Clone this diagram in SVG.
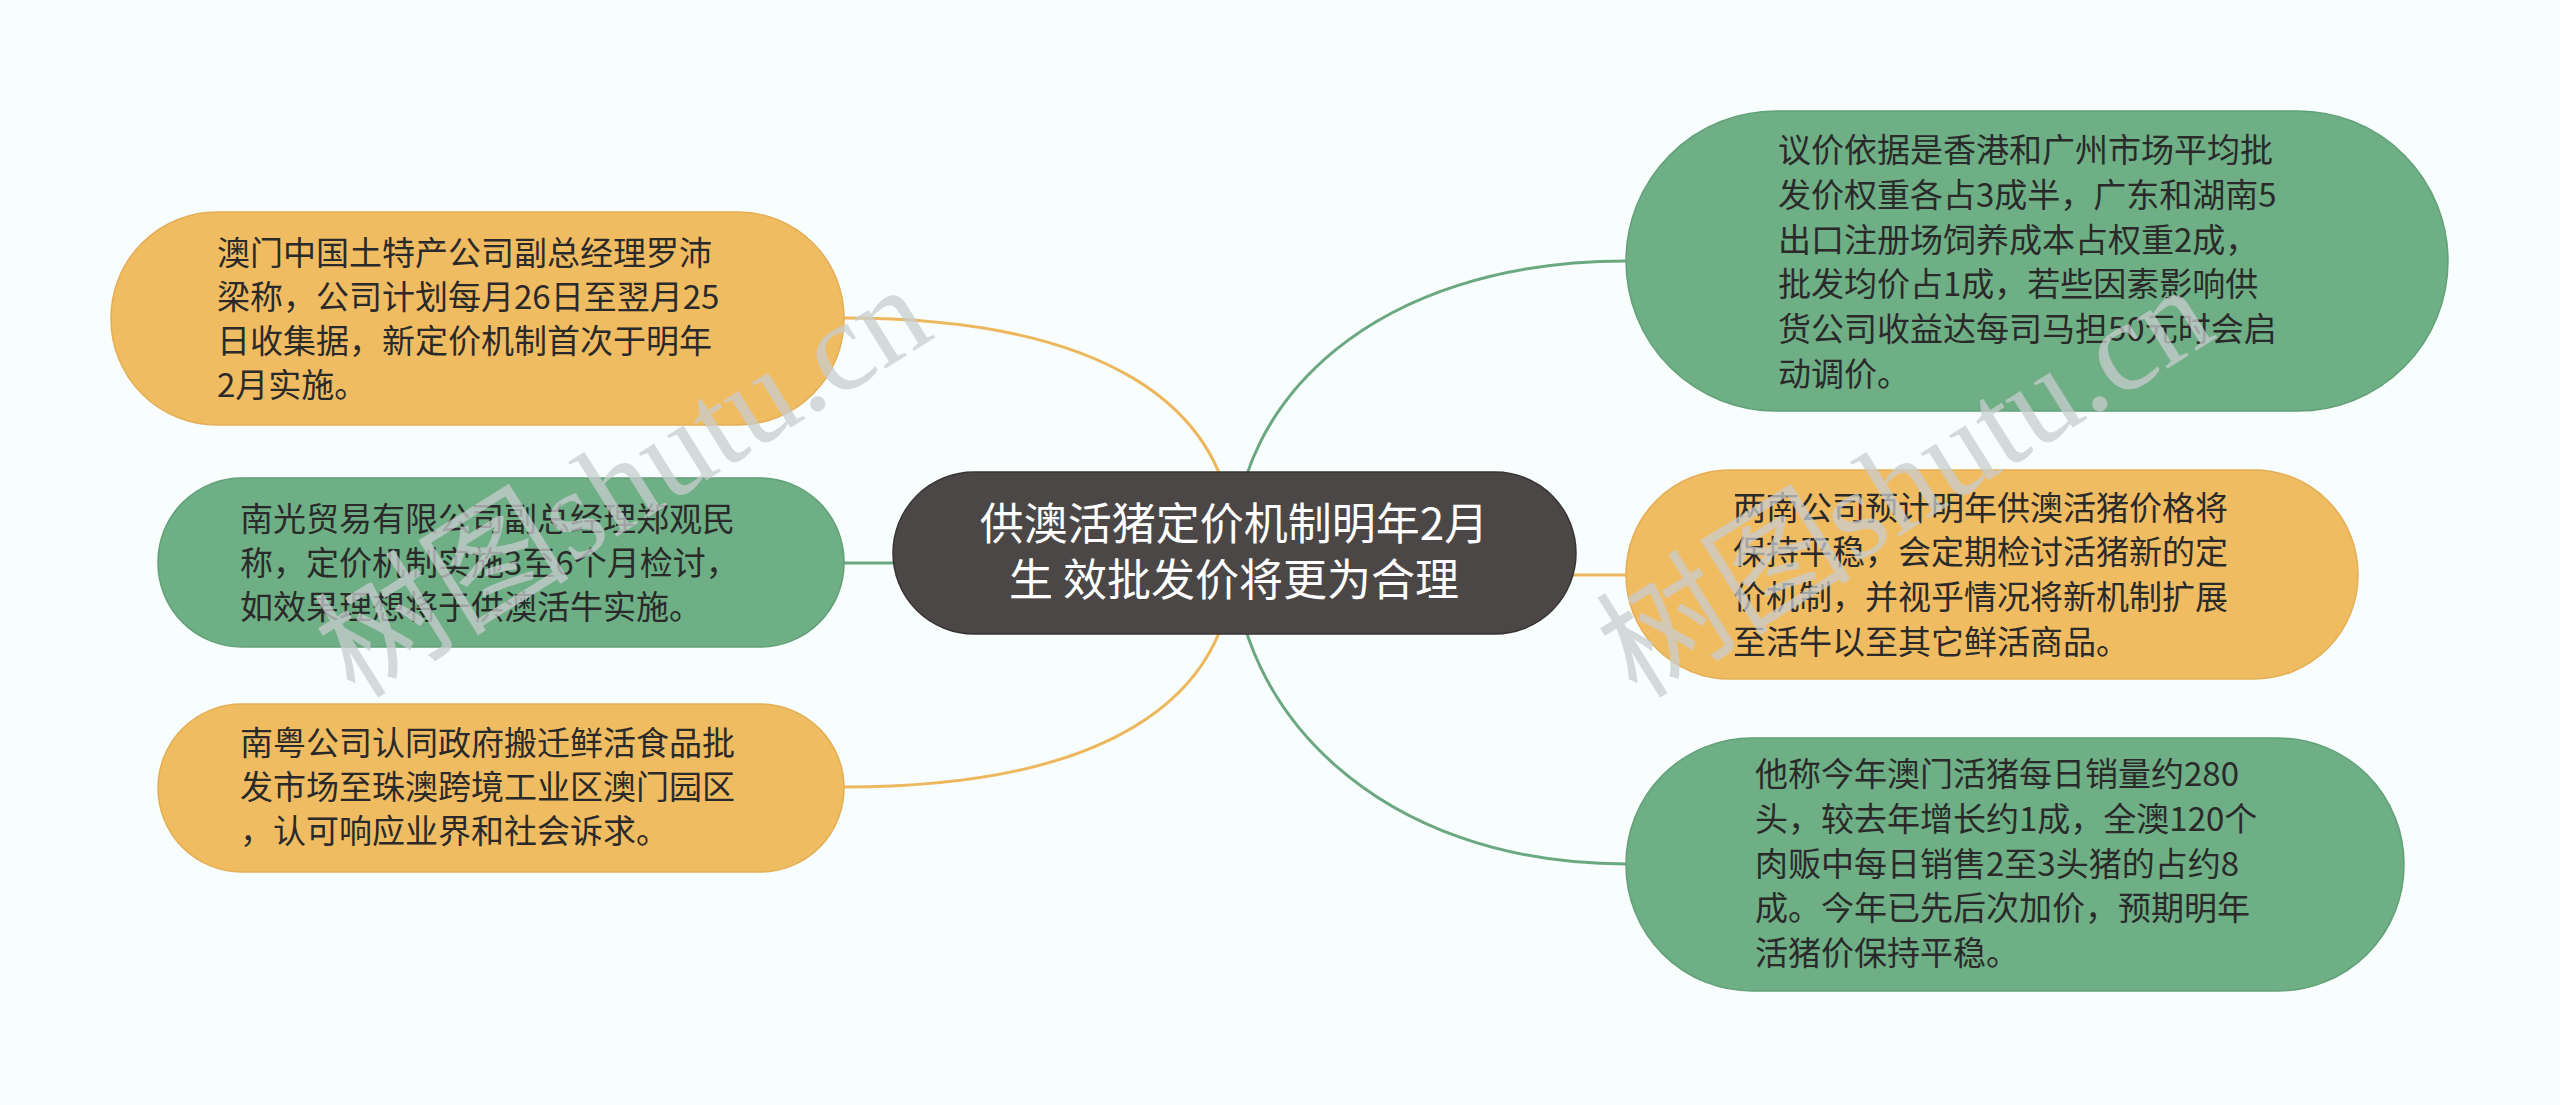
<svg xmlns="http://www.w3.org/2000/svg" width="2560" height="1105" viewBox="0 0 2560 1105">
<style>
.bg{fill:#F8FDFD}
.or{fill:#F0BC62;stroke:#E3AE55;stroke-width:1.5}
.gr{fill:#6EAF85;stroke:#62A078;stroke-width:1.5}
.ct{fill:#4C4747;stroke:#3A3535;stroke-width:1.5}
.t{font-family:"Noto Sans CJK SC","Noto Sans",sans-serif;font-size:33px;fill:#2A2A2A}
.tc{font-family:"Noto Sans CJK SC","Noto Sans",sans-serif;font-size:44px;fill:#FFFFFF;text-anchor:middle}
.lo{fill:none;stroke:#EDB85D;stroke-width:3}
.lg{fill:none;stroke:#6BA882;stroke-width:3}
.wm{font-family:"Liberation Serif","Noto Sans CJK SC",serif;font-size:128px;fill:#C9CDCF;opacity:0.75}
</style>
<rect class="bg" x="0" y="0" width="2560" height="1105"/>
<g id="connectors">
<path class="lo" d="M 844 318 C 1095 318 1234 400 1234 553"/>
<path class="lg" d="M 844 563 L 900 563"/>
<path class="lo" d="M 844 787 C 1095 787 1234 706 1234 553"/>
<path class="lg" d="M 1234 553 C 1234 400 1375 261 1626 261"/>
<path class="lo" d="M 1570 575 L 1626 575"/>
<path class="lg" d="M 1234 553 C 1234 706 1375 864 1626 864"/>
</g>
<g id="center">
<rect class="ct" x="893" y="472" width="683" height="162" rx="81"/>
<text class="tc" x="1234" y="540">供澳活猪定价机制明年2月</text>
<text class="tc" x="1234" y="596">生 效批发价将更为合理</text>
</g>
<g id="node1">
<rect class="or" x="111" y="212" width="733" height="213" rx="106"/>
<text class="t" x="217" y="265">澳门中国土特产公司副总经理罗沛</text>
<text class="t" x="217" y="309">梁称，公司计划每月26日至翌月25</text>
<text class="t" x="217" y="353">日收集据，新定价机制首次于明年</text>
<text class="t" x="217" y="397">2月实施。</text>
</g>
<g id="node2">
<rect class="gr" x="158" y="478" width="686" height="169" rx="84"/>
<text class="t" x="240" y="531">南光贸易有限公司副总经理郑观民</text>
<text class="t" x="240" y="575">称，定价机制实施3至6个月检讨，</text>
<text class="t" x="240" y="619">如效果理想将于供澳活牛实施。</text>
</g>
<g id="node3">
<rect class="or" x="158" y="704" width="686" height="168" rx="84"/>
<text class="t" x="240" y="755">南粤公司认同政府搬迁鲜活食品批</text>
<text class="t" x="240" y="799">发市场至珠澳跨境工业区澳门园区</text>
<text class="t" x="240" y="843">，认可响应业界和社会诉求。</text>
</g>
<g id="node4">
<rect class="gr" x="1626" y="111" width="822" height="300" rx="150"/>
<text class="t" x="1778" y="162">议价依据是香港和广州市场平均批</text>
<text class="t" x="1778" y="207">发价权重各占3成半，广东和湖南5</text>
<text class="t" x="1778" y="252">出口注册场饲养成本占权重2成，</text>
<text class="t" x="1778" y="296">批发均价占1成，若些因素影响供</text>
<text class="t" x="1778" y="341">货公司收益达每司马担50元时会启</text>
<text class="t" x="1778" y="386">动调价。</text>
</g>
<g id="node5">
<rect class="or" x="1626" y="470" width="732" height="209" rx="104"/>
<text class="t" x="1733" y="520">两南公司预计明年供澳活猪价格将</text>
<text class="t" x="1733" y="564">保持平稳，会定期检讨活猪新的定</text>
<text class="t" x="1733" y="609">价机制，并视乎情况将新机制扩展</text>
<text class="t" x="1733" y="654">至活牛以至其它鲜活商品。</text>
</g>
<g id="node6">
<rect class="gr" x="1626" y="738" width="778" height="253" rx="126"/>
<text class="t" x="1755" y="786">他称今年澳门活猪每日销量约280</text>
<text class="t" x="1755" y="831">头，较去年增长约1成，全澳120个</text>
<text class="t" x="1755" y="876">肉贩中每日销售2至3头猪的占约8</text>
<text class="t" x="1755" y="920">成。今年已先后次加价，预期明年</text>
<text class="t" x="1755" y="965">活猪价保持平稳。</text>
</g>
<g id="watermark">
<text class="wm" transform="translate(355 700) rotate(-32)">树图shutu.cn</text>
<text class="wm" transform="translate(1637 700) rotate(-32)">树图shutu.cn</text>
</g>
</svg>
